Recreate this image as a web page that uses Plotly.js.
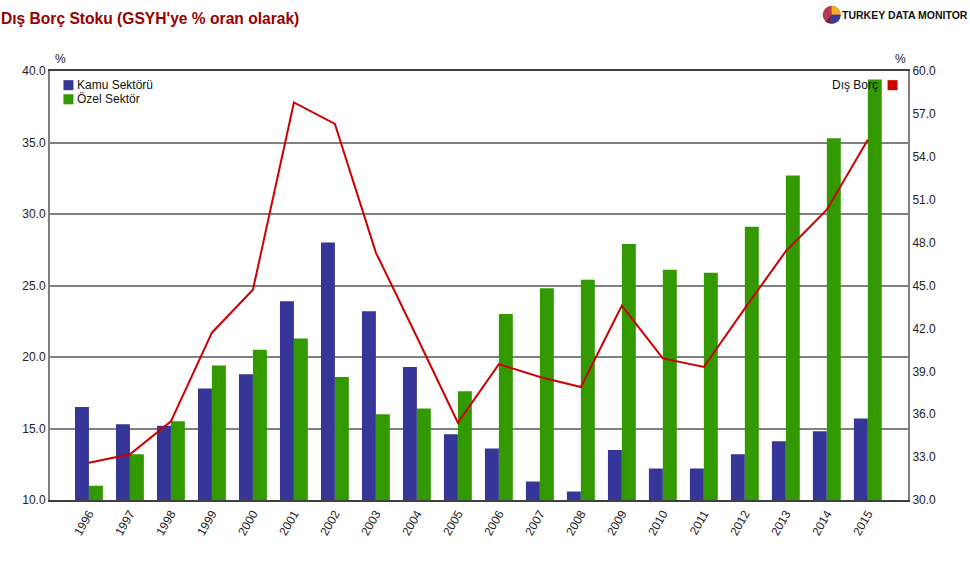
<!DOCTYPE html>
<html>
<head>
<meta charset="utf-8">
<script src="https://cdn.plot.ly/plotly-3.0.1.min.js"></script>
<style>
  html, body { margin: 0; padding: 0; background: #fff; }
  #chart { width: 970px; height: 570px; }
</style>
</head>
<body>
<div id="chart"></div>
<script>
// Dış Borç Stoku (GSYH'ye % oran olarak)
var years = ["1996", "1997", "1998", "1999", "2000", "2001", "2002", "2003", "2004", "2005",
             "2006", "2007", "2008", "2009", "2010", "2011", "2012", "2013", "2014", "2015"];

var kamu = [16.5, 15.3, 15.2, 17.8, 18.8, 23.9, 28.0, 23.2, 19.3, 14.6,
            13.6, 11.3, 10.6, 13.5, 12.2, 12.2, 13.2, 14.1, 14.8, 15.7];

var ozel = [11.0, 13.2, 15.5, 19.4, 20.5, 21.3, 18.6, 16.0, 16.4, 17.6,
            23.0, 24.8, 25.4, 27.9, 26.1, 25.9, 29.1, 32.7, 35.3, 39.4];

var disBorc = [32.6, 33.2, 35.5, 41.7, 44.7, 57.8, 56.3, 47.3, 41.4, 35.4,
               39.5, 38.6, 37.9, 43.6, 39.9, 39.3, 43.4, 47.4, 50.3, 55.2];

var seriesNames = ["Kamu Sektörü", "Özel Sektör", "Dış Borç"];
var seriesColors = ["#363699", "#339900", "#cc0000"];

var fontFam = "Liberation Sans, Arial, sans-serif";

var traceKamu = {
  x: years, y: kamu, type: "bar", name: seriesNames[0],
  marker: { color: seriesColors[0] }, yaxis: "y"
};
var traceOzel = {
  x: years, y: ozel, type: "bar", name: seriesNames[1],
  marker: { color: seriesColors[1] }, yaxis: "y"
};
var traceDis = {
  x: years, y: disBorc, type: "scatter", mode: "lines", name: seriesNames[2],
  line: { color: seriesColors[2], width: 2 }, yaxis: "y2"
};

var data = [traceKamu, traceOzel, traceDis];

// small helpers for legend squares and the logo (pixel sized, placed in paper coords)
function square(px, py, color) {
  return { type: "rect", xref: "paper", yref: "paper", xsizemode: "pixel", ysizemode: "pixel",
           xanchor: px, yanchor: py, x0: -5, x1: 5, y0: -5, y1: 5,
           fillcolor: color, line: { width: 0 } };
}
function wedge(path, color) {
  return { type: "path", xref: "paper", yref: "paper", xsizemode: "pixel", ysizemode: "pixel",
           xanchor: 0.911, yanchor: 1.131, path: path, fillcolor: color, line: { width: 0 } };
}

var layout = {
  width: 970, height: 570,
  margin: { l: 50, r: 62, t: 71, b: 70 },
  paper_bgcolor: "#fff", plot_bgcolor: "#fff",
  font: { family: fontFam, size: 12, color: "#222" },
  title: {
    text: "<b>Dış Borç Stoku (GSYH'ye % oran olarak)</b>",
    font: { family: fontFam, size: 15.6, color: "#990000" },
    x: 0.001, xref: "container", xanchor: "left",
    y: 0.968, yref: "container", yanchor: "middle"
  },
  barmode: "group", bargap: 0.32, bargroupgap: 0,
  showlegend: false,
  xaxis: {
    type: "category", range: [-0.95, 19.98],
    tickangle: -60, ticks: "", showgrid: false,
    showline: true, linecolor: "#404040", linewidth: 2, mirror: true,
    tickfont: { size: 12, color: "#222" }
  },
  yaxis: {
    range: [10, 40], tick0: 10, dtick: 5, tickformat: ".1f",
    showgrid: true, gridcolor: "#808080", gridwidth: 2, zeroline: false,
    showline: true, linecolor: "#808080", linewidth: 2, ticks: "",
    tickfont: { size: 12, color: "#222" }
  },
  yaxis2: {
    range: [30, 60], tick0: 30, dtick: 3, tickformat: ".1f",
    overlaying: "y", side: "right", showgrid: false, zeroline: false,
    showline: true, linecolor: "#808080", linewidth: 2, ticks: "",
    tickfont: { size: 12, color: "#222" }
  },
  annotations: [
    { text: "%", xref: "paper", yref: "paper", x: 0.003, y: 1.0, xanchor: "left", yanchor: "bottom",
      yshift: 3, showarrow: false, font: { size: 12, color: "#222" } },
    { text: "%", xref: "paper", yref: "paper", x: 1.0, y: 1.0, xanchor: "right", yanchor: "bottom",
      yshift: 3, showarrow: false, font: { size: 12, color: "#222" } },
    { text: seriesNames[0], xref: "paper", yref: "paper", x: 0.029, y: 0.967, xanchor: "left", yanchor: "middle",
      showarrow: false, font: { size: 12, color: "#111" } },
    { text: seriesNames[1], xref: "paper", yref: "paper", x: 0.029, y: 0.934, xanchor: "left", yanchor: "middle",
      showarrow: false, font: { size: 12, color: "#111" } },
    { text: seriesNames[2], xref: "paper", yref: "paper", x: 0.967, y: 0.967, xanchor: "right", yanchor: "middle",
      showarrow: false, font: { size: 12, color: "#111" } },
    { text: "<b>TURKEY DATA MONITOR</b>", xref: "paper", yref: "paper", x: 0.921, y: 1.131,
      xanchor: "left", yanchor: "middle", showarrow: false,
      font: { family: fontFam, size: 10.5, color: "#111" } }
  ],
  shapes: [
    square(0.0215, 0.967, seriesColors[0]),
    square(0.0215, 0.934, seriesColors[1]),
    square(0.982, 0.967, seriesColors[2]),
    // logo disc
    { type: "circle", xref: "paper", yref: "paper", xsizemode: "pixel", ysizemode: "pixel",
      xanchor: 0.911, yanchor: 1.131, x0: -9, x1: 9, y0: -9, y1: 9,
      fillcolor: "#b23a4e", line: { width: 0 } },
    wedge("M0,0 L0,9 L4,8 L7,6 L8.5,3 L9,0 Z", "#f2b01e"),
    wedge("M0,0 L9,0 L8.5,-3 L7,-6 L4,-8 L0,-9 Z", "#3a3a9a"),
    wedge("M0,0 L0,-9 L-4,-8 L-6,-7 Z", "#6a1f5a")
  ]
};

Plotly.newPlot("chart", data, layout, { displayModeBar: false, staticPlot: true });
</script>
</body>
</html>
